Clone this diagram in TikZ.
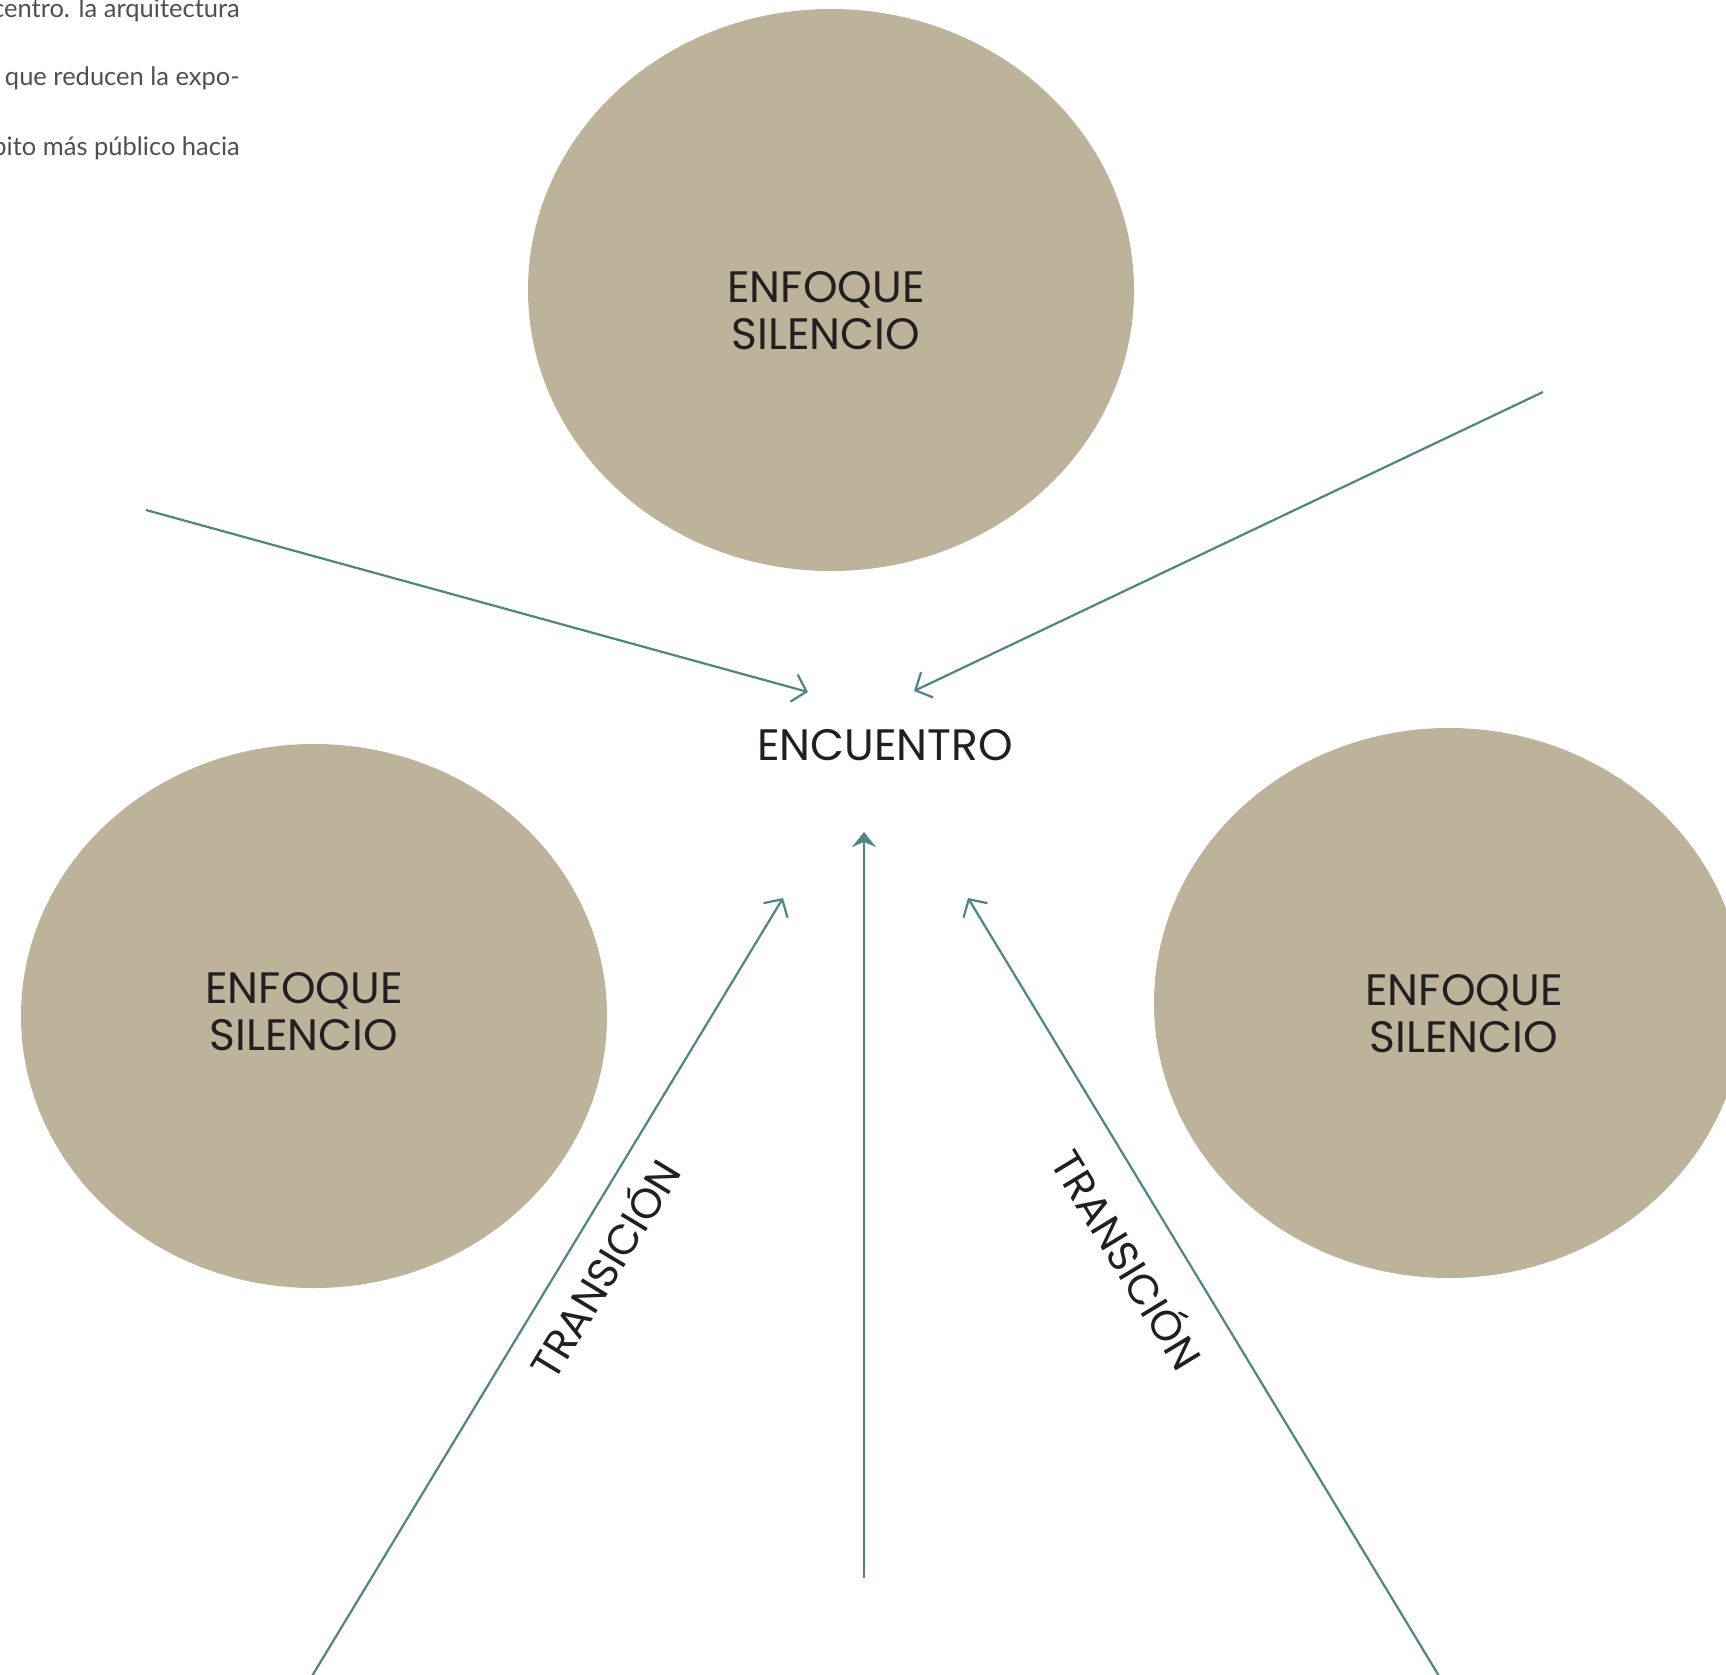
\documentclass[tikz,border=0pt]{standalone}
\usepackage{fontspec}
\setmainfont{Poppins}
\newfontfamily\bodyfont{Lato}
\usetikzlibrary{shapes.geometric,arrows.meta}
\definecolor{sand}{HTML}{BDB39B}
\definecolor{teal}{HTML}{4F8582}
\definecolor{ink}{HTML}{231F20}
\definecolor{bodygray}{HTML}{505050}
\tikzset{
  zone/.style={ellipse, fill=sand, draw=none, inner sep=0pt},
  zonelabel/.style={text=ink, align=center, inner sep=0pt,
    font=\fontsize{44}{47}\selectfont},
  flow/.style={draw=teal, line width=2.2pt, -{Straight Barb[length=13pt,width=28pt,line width=2.2pt]}},
  mainflow/.style={draw=teal, line width=2.2pt, -{Stealth[length=15pt,width=24pt,inset=5pt]}},
  hub/.style={text=ink, font=\fontsize{44}{47}\selectfont, inner sep=0pt},
  tag/.style={text=ink, font=\fontsize{42}{44}\selectfont, inner sep=0pt},
  para/.style={text=bodygray, font=\bodyfont\fontsize{25.5}{30}\selectfont, inner sep=0pt, anchor=base east}
}
\begin{document}
\begin{tikzpicture}[x=1pt,y=-1pt]
  \useasboundingbox (0,0) rectangle (1726,1674);
  \clip (0,0) rectangle (1726,1674);
  \fill[white] (0,0) rectangle (1726,1674);

  % running text of the page
  \node[para] (p1) at (240,17) {centro. la arquitectura};
  \node[para] (p2) at (240,85) {que reducen la expo-};
  \node[para] (p3) at (240,155) {bito más público hacia};

  % three zones
  \node[zone, minimum width=606pt, minimum height=562pt] (ztop) at (831,290) {};
  \node[zone, minimum width=586pt, minimum height=544pt] (zleft) at (314,1016) {};
  \node[zone, minimum width=590pt, minimum height=550pt] (zright) at (1449,1003) {};

  \node[zonelabel] (ltop) at (826,311) {ENFOQUE\\SILENCIO};
  \node[zonelabel] (lleft) at (304,1012) {ENFOQUE\\SILENCIO};
  \node[zonelabel] (lright) at (1464,1014) {ENFOQUE\\SILENCIO};

  % centre
  \node[hub] (hub) at (885,745) {ENCUENTRO};

  % connector ends
  \coordinate (a1) at (146,510);   \coordinate (b1) at (808,692);
  \coordinate (a2) at (1543,392);  \coordinate (b2) at (914,691);
  \coordinate (a3) at (864,1578);  \coordinate (b3) at (864,832);
  \coordinate (a4) at (312,1676);  \coordinate (b4) at (783,898);
  \coordinate (a5) at (1439,1676); \coordinate (b5) at (968,898);

  \draw[flow] (a1) -- (b1);
  \draw[flow] (a2) -- (b2);
  \draw[mainflow] (a3) -- (b3);
  \draw[flow] (a4) -- (b4);
  \draw[flow] (a5) -- (b5);

  % labels along the side paths
  \node[tag, rotate=58.7] (t1) at (602,1267) {TRANSICIÓN};
  \node[tag, rotate=-58.7] (t2) at (1130,1258) {TRANSICIÓN};
\end{tikzpicture}
\end{document}
